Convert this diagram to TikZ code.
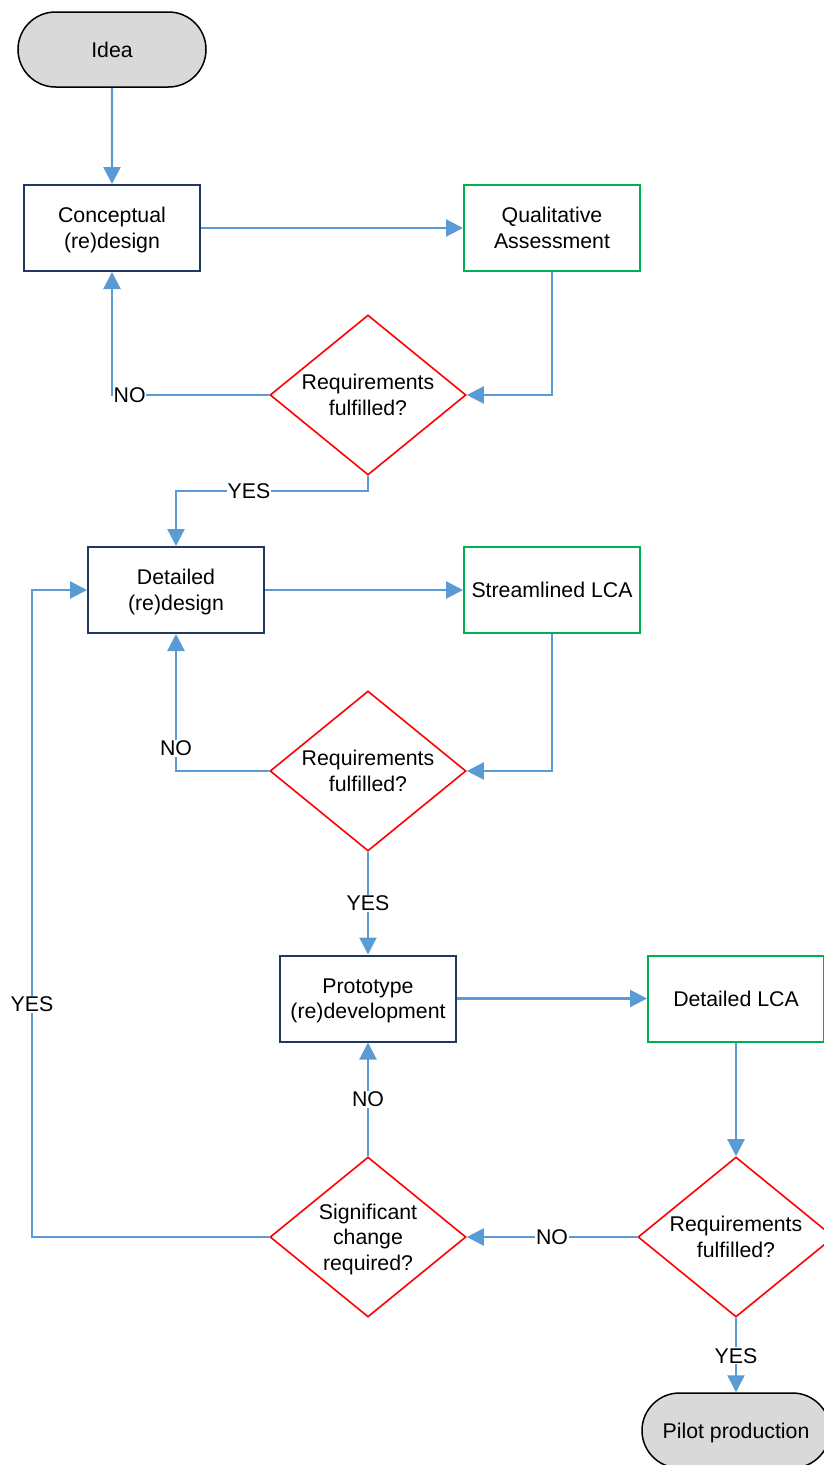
\documentclass[tikz,border=0pt]{standalone}
\usepackage{fontspec}
\setmainfont{Liberation Sans}
\usetikzlibrary{shapes.geometric,shapes.misc,arrows.meta}
\definecolor{lineblue}{HTML}{5B9BD5}
\definecolor{navy}{HTML}{1F3864}
\definecolor{boxgreen}{HTML}{00B050}
\definecolor{termgray}{HTML}{D9D9D9}
\newcommand\nodepth[1]{\raisebox{0pt}[\height][0pt]{#1}}
\begin{document}
\begin{tikzpicture}[x=1pt,y=-1pt,
  every node/.style={font=\fontsize{21.3}{25.5}\selectfont, align=center, text=black},
  term/.style={rounded rectangle, draw=black, line width=1.5pt, fill=termgray, minimum width=188pt, minimum height=75pt, inner sep=0pt},
  proc/.style={rectangle, draw=navy, line width=2pt, fill=white, minimum width=176pt, minimum height=86pt, inner sep=0pt},
  assess/.style={rectangle, draw=boxgreen, line width=2pt, fill=white, minimum width=176pt, minimum height=86pt, inner sep=0pt},
  dec/.style={diamond, draw=red, line width=1.6pt, fill=white, aspect=1.225, minimum width=196pt, minimum height=160pt, inner sep=0pt},
  conn/.style={draw=lineblue, line width=2.3pt, -{Triangle[length=17pt,width=17pt]}},
  lbl/.style={fill=white, inner sep=1pt}]
\clip (0,0) rectangle (824,1465);
\fill[white] (0,0) rectangle (824,1465);

\node[term] (idea) at (112,49.5) {Idea};
\node[proc] (cd) at (112,228) {Conceptual\\\nodepth{(re)design}};
\node[assess] (qa) at (552,228) {Qualitative\\Assessment};
\node[dec] (d1) at (368,395) {Requirements\\fulfilled?};
\node[proc] (dd) at (176,590) {Detailed\\\nodepth{(re)design}};
\node[assess] (sl) at (552,590) {Streamlined LCA};
\node[dec] (d2) at (368,771) {Requirements\\fulfilled?};
\node[proc] (pd) at (368,998.5) {Prototype\\\nodepth{(re)development}};
\node[assess] (dl) at (736,998.5) {Detailed LCA};
\node[dec] (d3) at (368,1237) {Significant\\change\\\nodepth{required?}};
\node[dec] (d4) at (736,1237) {Requirements\\fulfilled?};
\node[term] (pp) at (736,1430.5) {\nodepth{Pilot production}};

\coordinate (lp) at (32,590);

\draw[conn] (idea) -- (cd);
\draw[conn] (cd) -- (qa);
\draw[conn] (qa.south) |- (d1.east);
\draw[conn] (d1.west) -| node[lbl, pos=0.5, anchor=west, inner sep=0.5pt]{NO} (cd.south);
\draw[conn] (d1.south) -- ++(0,15) -| node[lbl, pos=0.31]{YES} (dd.north);
\draw[conn] (dd) -- (sl);
\draw[conn] (sl.south) |- (d2.east);
\draw[conn] (d2.west) -| node[lbl, pos=0.583]{NO} (dd.south);
\draw[conn] (d2.south) -- node[lbl]{YES} (pd.north);
\draw[conn] (pd) -- (dl);
\draw[conn] (dl.south) -- (d4.north);
\draw[conn] (d4.west) -- node[lbl]{NO} (d3.east);
\draw[conn] (d3.north) -- node[lbl]{NO} (pd.south);
\draw[conn] (d3.west) -| node[lbl, pos=0.68]{YES} (lp) -- (dd.west);
\draw[conn] (d4.south) -- node[lbl, pos=0.51]{YES} (pp.north);
\end{tikzpicture}
\end{document}
